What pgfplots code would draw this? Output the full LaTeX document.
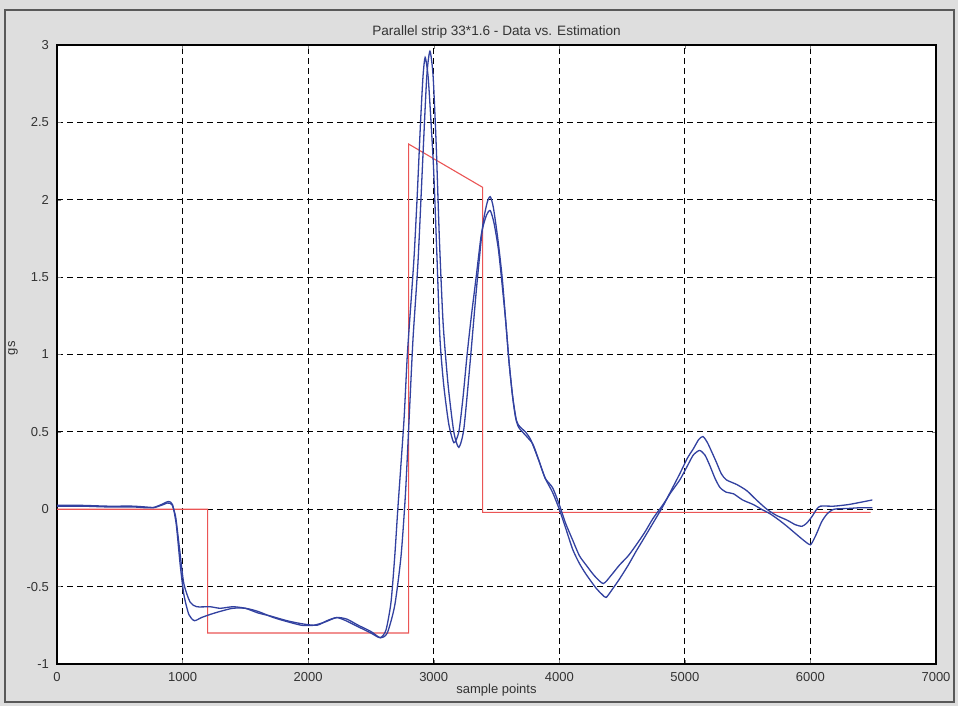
\documentclass[border=0pt]{standalone}
\usepackage{pgfplots}
\pgfplotsset{compat=1.18}
\usepackage{fontspec}
\setmainfont{Liberation Sans}
\definecolor{bgfig}{rgb}{0.87,0.87,0.87}
\definecolor{bluec}{RGB}{50,65,160}
\definecolor{redc}{RGB}{235,85,85}
\begin{document}
\begin{tikzpicture}
\useasboundingbox (0,0) rectangle (479pt,353pt);
\fill[bgfig] (0,0) rectangle (479pt,353pt);
\draw[black!65, line width=0.8pt] (2.5pt,2pt) rectangle (477pt,348pt);
\begin{axis}[
  at={(28.5pt,21pt)}, anchor=south west,
  scale only axis, width=439.5pt, height=309.5pt,
  xmin=0, xmax=7000, ymin=-1, ymax=3,
  xtick={0,1000,...,7000},
  ytick={-1,-0.5,0,0.5,1,1.5,2,2.5,3},
  /pgf/number format/assume math mode=true,
  /pgf/number format/1000 sep={},
  tick label style={font=\fontsize{6.5}{7}\selectfont, black!80},
  xticklabel style={yshift=-0.5pt},
  yticklabel style={xshift=-0.5pt},
  tick align=inside, major tick length=2pt,
  axis background/.style={fill=white},
  axis line style={black, line width=0.8pt},
  grid=major,
  major grid style={black, line width=0.5pt, dash pattern=on 3pt off 2pt},
  title={Parallel strip 33*1.6 - Data vs. Estimation},
  title style={font=\fontsize{6.8}{7}\selectfont, black!80, at={(axis description cs:0.5,1)}, anchor=center, yshift=0.5pt},
  xlabel={sample points},
  xlabel style={font=\fontsize{6.5}{7}\selectfont, black!80, at={(axis description cs:0.5,0)}, anchor=center, yshift=-13pt},
  ylabel={gs},
  ylabel style={font=\fontsize{6.5}{7}\selectfont, black!80, at={(axis description cs:-0.05,0.51)}, anchor=center},
]
\addplot[redc, line width=0.55pt] coordinates {
(0,0)(1200,0)(1200,-0.8)(2800,-0.8)(2800,2.36)(3390,2.08)(3390,-0.02)(6480,-0.02)
};
\addplot[bluec, line width=0.65pt, smooth, tension=0.4] coordinates {
(0,0.025)(200,0.025)(400,0.02)(600,0.02)(700,0.015)(770,0.012)(830,0.03)(887,0.05)(920,0.03)(950,-0.1)(980,-0.35)(1010,-0.55)(1050,-0.68)(1094,-0.72)(1150,-0.70)(1219,-0.68)(1300,-0.66)(1400,-0.64)(1500,-0.64)(1600,-0.66)(1724,-0.70)(1850,-0.73)(1950,-0.75)(2042,-0.75)(2130,-0.73)(2227,-0.70)(2308,-0.71)(2400,-0.75)(2500,-0.79)(2574,-0.83)(2630,-0.80)(2690,-0.62)(2740,-0.3)(2775,0.1)(2805,0.6)(2835,1.1)(2875,1.6)(2915,2.3)(2945,2.8)(2970,2.96)(2995,2.8)(3020,2.35)(3045,1.75)(3075,1.2)(3115,0.8)(3160,0.5)(3200,0.40)(3240,0.52)(3290,0.95)(3340,1.42)(3390,1.83)(3425,1.98)(3450,2.02)(3475,1.95)(3510,1.75)(3545,1.5)(3575,1.2)(3600,0.95)(3630,0.72)(3660,0.57)(3690,0.53)(3730,0.50)(3772,0.45)(3830,0.33)(3888,0.2)(3946,0.11)(4000,0.0)(4050,-0.12)(4107,-0.26)(4160,-0.35)(4213,-0.42)(4293,-0.51)(4340,-0.55)(4373,-0.57)(4420,-0.52)(4480,-0.45)(4550,-0.36)(4613,-0.27)(4680,-0.18)(4746,-0.09)(4826,0.02)(4890,0.12)(4960,0.23)(5020,0.33)(5067,0.39)(5110,0.45)(5144,0.47)(5180,0.43)(5220,0.36)(5253,0.30)(5290,0.23)(5330,0.19)(5413,0.16)(5493,0.12)(5570,0.06)(5653,0.0)(5730,-0.04)(5813,-0.07)(5880,-0.10)(5933,-0.11)(5970,-0.09)(6010,-0.05)(6050,0.0)(6080,0.02)(6187,0.02)(6300,0.03)(6400,0.045)(6493,0.06)
};
\addplot[bluec, line width=0.65pt, smooth, tension=0.4] coordinates {
(0,0.02)(200,0.02)(400,0.015)(600,0.015)(700,0.01)(770,0.01)(830,0.025)(880,0.04)(915,0.03)(945,-0.05)(975,-0.25)(1010,-0.48)(1060,-0.6)(1113,-0.63)(1219,-0.63)(1300,-0.64)(1400,-0.63)(1500,-0.64)(1600,-0.67)(1700,-0.69)(1830,-0.72)(1950,-0.74)(2069,-0.75)(2150,-0.72)(2227,-0.70)(2300,-0.72)(2400,-0.76)(2500,-0.80)(2574,-0.83)(2620,-0.78)(2660,-0.6)(2690,-0.3)(2714,0.0)(2740,0.3)(2765,0.6)(2790,1.0)(2820,1.35)(2845,1.65)(2870,2.05)(2895,2.5)(2915,2.8)(2932,2.92)(2955,2.8)(2975,2.55)(2999,2.2)(3025,1.65)(3050,1.1)(3080,0.8)(3120,0.55)(3161,0.43)(3200,0.5)(3233,0.72)(3266,1.0)(3300,1.25)(3338,1.5)(3380,1.78)(3420,1.9)(3450,1.93)(3480,1.85)(3515,1.68)(3545,1.45)(3575,1.2)(3600,0.95)(3625,0.75)(3650,0.6)(3676,0.53)(3740,0.47)(3790,0.42)(3840,0.31)(3888,0.2)(3946,0.14)(4000,0.03)(4050,-0.09)(4107,-0.2)(4160,-0.3)(4213,-0.36)(4280,-0.43)(4350,-0.48)(4410,-0.43)(4480,-0.36)(4550,-0.30)(4613,-0.23)(4680,-0.15)(4746,-0.06)(4826,0.03)(4890,0.11)(4960,0.19)(5020,0.28)(5067,0.35)(5117,0.38)(5160,0.35)(5200,0.28)(5240,0.2)(5280,0.14)(5330,0.11)(5387,0.10)(5460,0.06)(5546,0.03)(5610,0.0)(5680,-0.03)(5750,-0.07)(5813,-0.11)(5900,-0.17)(5960,-0.21)(6000,-0.23)(6030,-0.19)(6053,-0.15)(6090,-0.08)(6133,-0.03)(6187,0.0)(6300,0.005)(6400,0.01)(6493,0.01)
};
\end{axis}
\end{tikzpicture}
\end{document}
